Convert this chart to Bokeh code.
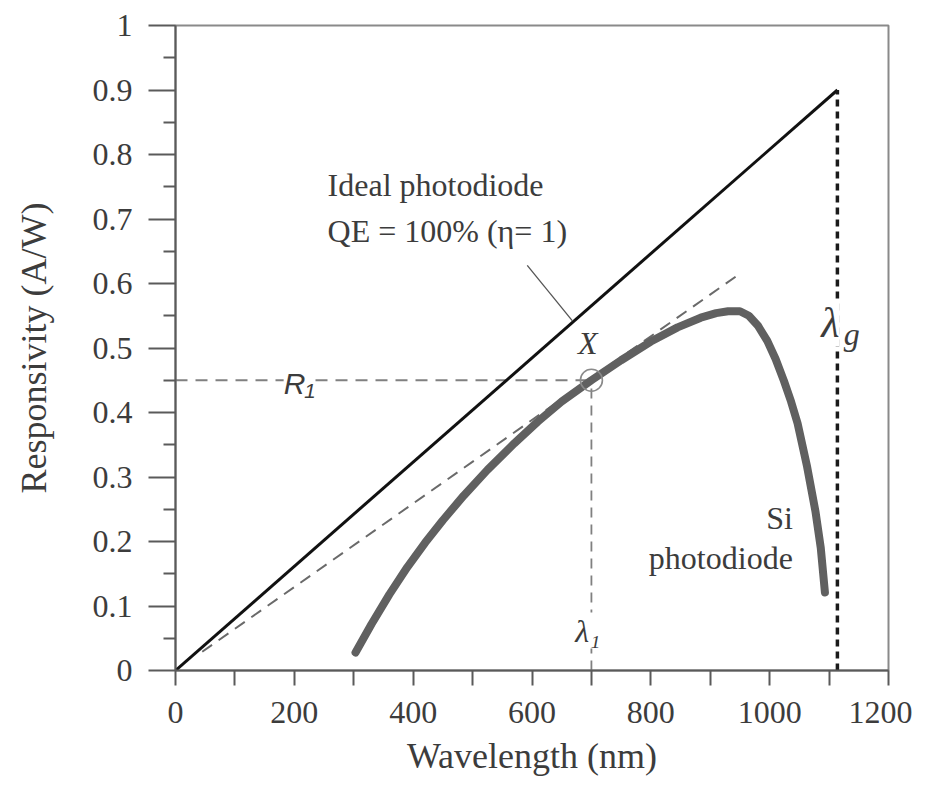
from bokeh.plotting import figure
from bokeh.models import FixedTicker, CustomJSTickFormatter, Label
from bokeh.embed import file_html
from bokeh.resources import INLINE

# ---- data ----
ideal_x = [0, 1114]
ideal_y = [0, 0.900]

si_x = [303, 330, 360, 390, 420, 450, 485, 525, 570, 610, 650, 700, 750, 800, 845,
        884, 910, 930, 950, 965, 980, 996, 1010, 1024, 1036, 1047, 1063, 1077,
        1086, 1093]
si_y = [0.028, 0.072, 0.118, 0.160, 0.198, 0.233, 0.271, 0.311, 0.352, 0.386, 0.417,
        0.450, 0.481, 0.510, 0.532, 0.547, 0.554, 0.557, 0.557, 0.550, 0.535,
        0.511, 0.483, 0.449, 0.417, 0.383, 0.316, 0.247, 0.190, 0.121]

tangent_x = [45, 945]
tangent_y = [0.029, 0.612]

lambda_1 = 700
R_1 = 0.45
lambda_g = 1114
R_g = 0.900

leader_x = [592, 668]
leader_y = [0.628, 0.542]

x_ticks = [0, 200, 400, 600, 800, 1000, 1200]
x_minor = [100, 300, 500, 700, 900, 1100]
y_ticks = [0, 0.1, 0.2, 0.3, 0.4, 0.5, 0.6, 0.7, 0.8, 0.9, 1.0]
y_minor = [0.05, 0.15, 0.25, 0.35, 0.45, 0.55, 0.65, 0.75, 0.85, 0.95]

SERIF = "Liberation Serif"
TXT = "#3c3c3c"
AX = "#5a5a5a"

p = figure(width=912, height=769, output_backend="svg", toolbar_location=None,
           x_range=(0, 1200), y_range=(0, 1.0),
           frame_width=713, frame_height=645)
p.min_border_left = 175
p.min_border_top = 25
p.min_border_right = 24
p.min_border_bottom = 99
p.background_fill_color = "white"
p.border_fill_color = "white"
p.outline_line_color = "#8a8a8a"
p.outline_line_width = 2
p.grid.visible = False

# axes
p.xaxis.ticker = FixedTicker(ticks=x_ticks, minor_ticks=x_minor)
p.yaxis.ticker = FixedTicker(ticks=y_ticks, minor_ticks=y_minor)
p.yaxis.formatter = CustomJSTickFormatter(code="return String(Math.round(tick*10)/10);")
for ax in (p.xaxis, p.yaxis):
    ax.axis_line_color = AX
    ax.axis_line_width = 2
    ax.major_tick_line_color = AX
    ax.major_tick_line_width = 2
    ax.minor_tick_line_color = AX
    ax.minor_tick_line_width = 2
    ax.major_tick_in = 0
    ax.minor_tick_in = 0
    ax.major_label_text_font = SERIF
    ax.major_label_text_font_size = "32px"
    ax.major_label_text_color = TXT
    ax.axis_label_text_font = SERIF
    ax.axis_label_text_font_size = "36px"
    ax.axis_label_text_font_style = "normal"
    ax.axis_label_text_color = TXT

p.xaxis.major_tick_out = 15
p.xaxis.minor_tick_out = 15
p.xaxis.major_label_standoff = 16
p.xaxis.axis_label = "Wavelength (nm)"
p.xaxis.axis_label_standoff = 10

p.yaxis.major_tick_out = 27
p.yaxis.minor_tick_out = 12
p.yaxis.major_label_standoff = 16
p.yaxis.axis_label = "Responsivity (A/W)"
p.yaxis.axis_label_standoff = 36

# lines
p.line(tangent_x, tangent_y, line_color="#6a6a6a", line_width=2, line_dash="12 8")
p.line([0, lambda_1], [R_1, R_1], line_color="#808080", line_width=1.8, line_dash="12 8")
p.line([lambda_1, lambda_1], [0, R_1], line_color="#808080", line_width=1.8, line_dash="10 7")
p.line(si_x, si_y, line_color="#606060", line_width=8, line_join="round", line_cap="round")
p.line(ideal_x, ideal_y, line_color="#111111", line_width=3)
p.line([lambda_g, lambda_g], [0, R_g], line_color="#1a1a1a", line_width=3.5, line_dash="7 5")
p.line(leader_x, leader_y, line_color="#555555", line_width=1.3)
p.scatter([lambda_1], [R_1], marker="circle", size=22, fill_color=None,
          line_color="#8a8a8a", line_width=1.6)

# annotations
def lab(x, y, text, size, font=SERIF, style="normal", align="left", baseline="alphabetic",
        bg=None, color=TXT):
    l = Label(x=x, y=y, text=text, text_font=font, text_font_size=size,
              text_font_style=style, text_align=align, text_baseline=baseline,
              text_color=color)
    if bg:
        l.background_fill_color = bg
    p.add_layout(l)

lab(256, 0.752, "Ideal photodiode", "32px")
lab(256, 0.681, "QE = 100% (η= 1)", "32px")
lab(694, 0.508, "X", "32px", style="italic", align="center", baseline="middle")
lab(182, 0.445, "R₁", "30px", font="Liberation Sans", style="italic", baseline="middle", bg="white")
lab(694, 0.062, "λ₁", "32px", style="italic", align="center", bg="white")
lab(1102, 0.538, "λ", "42px", style="italic", align="center", bg="white")
lab(1138, 0.522, "g", "32px", style="italic", align="center")
lab(1039, 0.237, "Si", "32px", align="right")
lab(1039, 0.175, "photodiode", "32px", align="right")

open("out.html", "w").write(file_html(p, INLINE))
